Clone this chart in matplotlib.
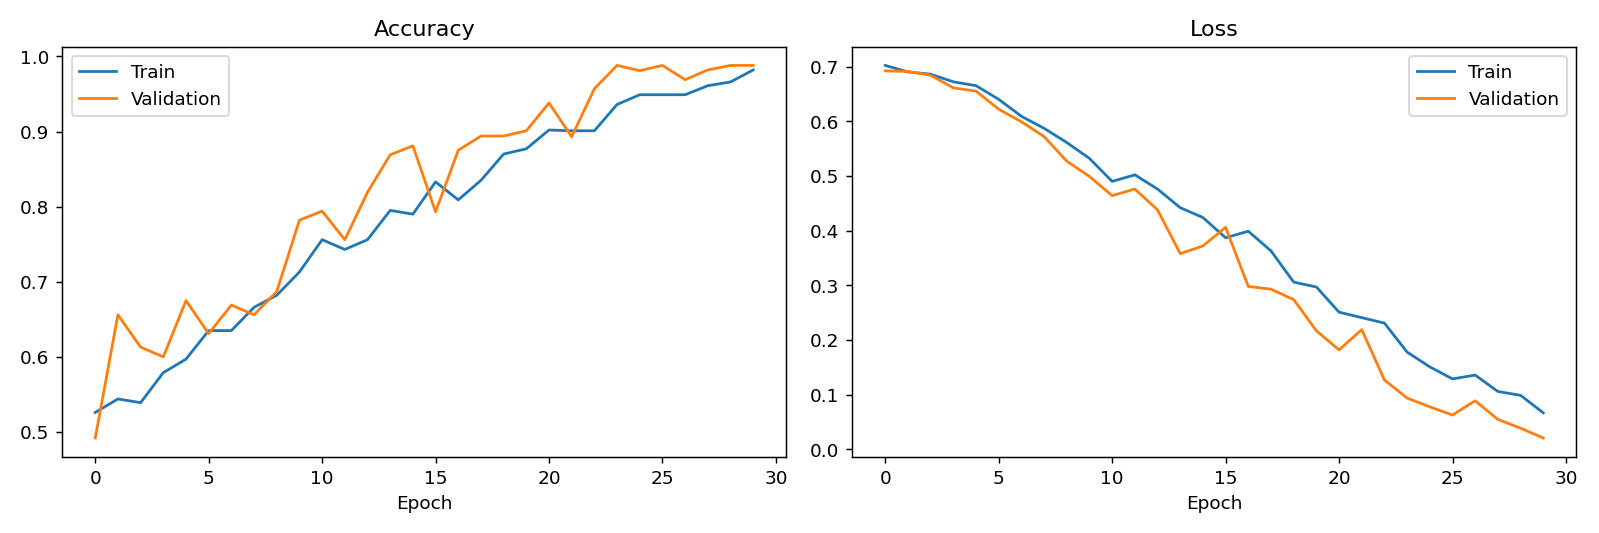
import matplotlib
matplotlib.use("Agg")
import matplotlib.pyplot as plt
import numpy as np

epochs = list(range(30))

train_acc = [0.526, 0.544, 0.539, 0.579, 0.597, 0.635, 0.635, 0.666, 0.682, 0.713,
             0.756, 0.743, 0.756, 0.795, 0.790, 0.833, 0.809, 0.835, 0.870, 0.877,
             0.902, 0.901, 0.901, 0.936, 0.949, 0.949, 0.949, 0.961, 0.966, 0.982]
val_acc = [0.492, 0.656, 0.613, 0.600, 0.675, 0.631, 0.669, 0.656, 0.687, 0.782,
           0.794, 0.756, 0.819, 0.869, 0.881, 0.793, 0.875, 0.894, 0.894, 0.901,
           0.938, 0.893, 0.957, 0.988, 0.981, 0.988, 0.969, 0.982, 0.988, 0.988]

train_loss = [0.702, 0.690, 0.686, 0.672, 0.665, 0.640, 0.609, 0.587, 0.561, 0.532,
              0.490, 0.502, 0.476, 0.442, 0.424, 0.387, 0.399, 0.363, 0.306, 0.297,
              0.251, 0.241, 0.231, 0.178, 0.151, 0.129, 0.136, 0.106, 0.099, 0.067]
val_loss = [0.692, 0.691, 0.684, 0.661, 0.655, 0.622, 0.599, 0.572, 0.527, 0.499,
            0.464, 0.476, 0.438, 0.358, 0.372, 0.406, 0.298, 0.293, 0.274, 0.217,
            0.182, 0.219, 0.127, 0.094, 0.078, 0.063, 0.089, 0.055, 0.039, 0.021]

fig, axes = plt.subplots(1, 2, figsize=(12, 4), dpi=133.33)

ax = axes[0]
ax.plot(epochs, train_acc, label="Train")
ax.plot(epochs, val_acc, label="Validation")
ax.set_title("Accuracy")
ax.set_xlabel("Epoch")
ax.legend(loc="upper left")

ax = axes[1]
ax.plot(epochs, train_loss, label="Train")
ax.plot(epochs, val_loss, label="Validation")
ax.set_title("Loss")
ax.set_xlabel("Epoch")
ax.legend(loc="upper right")

fig.tight_layout()
fig.savefig("out.png")
